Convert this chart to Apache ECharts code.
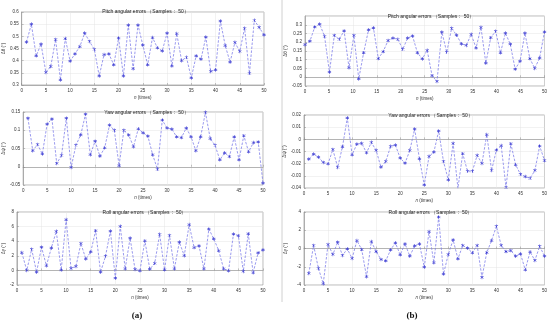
<!DOCTYPE html>
<html><head><meta charset="utf-8">
<script src="https://cdn.jsdelivr.net/npm/echarts@6/dist/echarts.min.js"></script>
<style>html,body{margin:0;padding:0;background:#fff}#c{width:550px;height:323px}</style>
</head><body><div id="c"></div>
<script>
// sample numbers (n)
const samples = [1,2,3,4,5,6,7,8,9,10,11,12,13,14,15,16,17,18,19,20,21,22,23,24,25,26,27,28,29,30,31,32,33,34,35,36,37,38,39,40,41,42,43,44,45,46,47,48,49,50];
const xTickStep = 5;

// (a) pitch, yaw, roll errors
const pitchA = [0.476,0.550,0.420,0.468,0.352,0.376,0.487,0.321,0.491,0.398,0.428,0.458,0.513,0.479,0.446,0.337,0.425,0.428,0.383,0.493,0.337,0.546,0.367,0.546,0.464,0.383,0.495,0.453,0.440,0.513,0.378,0.511,0.400,0.414,0.329,0.420,0.406,0.497,0.356,0.362,0.563,0.462,0.394,0.475,0.438,0.533,0.348,0.566,0.537,0.506];
const yawA = [0.133,0.044,0.061,0.035,0.117,0.131,0.009,0.031,0.133,-0.002,0.059,0.087,0.144,0.033,0.070,0.029,0.052,0.114,0.100,0.003,0.100,0.087,0.055,0.104,0.093,0.084,0.033,-0.007,0.128,0.106,0.103,0.082,0.080,0.106,0.082,0.044,0.082,0.149,0.077,0.059,0.019,0.038,0.028,0.082,0.019,0.085,0.041,0.066,0.068,-0.045];
const rollA = [2.44,0.0,2.9,-0.23,3.18,0.65,3.09,5.35,0.05,6.96,0.28,0.55,3.69,1.57,2.53,5.44,-0.23,1.94,5.39,-1.06,6.04,0.23,4.42,0.14,-0.05,4.06,0.18,0.97,4.93,0.09,4.79,0.23,3.87,2.03,6.27,3.13,3.36,0.23,5.67,4.33,2.72,0.23,-0.05,4.98,4.75,-0.14,5.02,-0.32,2.4,2.81];

// (b) pitch, yaw, roll errors
const pitchB = [0.186,0.206,0.287,0.304,0.234,0.029,0.239,0.217,0.265,0.055,0.239,-0.009,0.140,0.271,0.282,0.107,0.147,0.210,0.224,0.217,0.160,0.224,0.236,0.140,0.105,0.154,0.009,-0.024,0.258,0.143,0.280,0.241,0.191,0.182,0.245,0.167,0.285,0.081,0.226,0.263,0.140,0.252,0.189,0.046,0.092,0.252,0.107,0.051,0.110,0.259];
const yawB = [-0.0163,-0.0121,-0.0146,-0.0190,-0.0201,-0.0083,-0.0231,-0.0061,0.0176,-0.0127,-0.0039,-0.0033,-0.0110,-0.0025,-0.0091,-0.0229,-0.0182,-0.0058,-0.0047,-0.0154,-0.0196,-0.0091,0.0085,-0.0160,-0.0375,-0.0140,-0.0105,0.0069,-0.0182,-0.0333,-0.0033,-0.0402,-0.0118,-0.0262,-0.0262,-0.0132,-0.0198,0.0039,-0.0256,-0.0088,-0.0052,-0.0394,-0.0036,-0.0209,-0.0287,-0.0306,-0.0320,-0.0256,-0.0055,-0.0174];
const rollB = [-2.73,0.33,-2.18,-3.85,0.44,-0.65,0.69,-0.76,-0.04,-1.09,0.87,-0.11,-3.09,0.76,-0.33,-1.2,-1.35,-0.15,0.62,-0.69,0.51,-0.84,0.29,0.51,-2.04,1.85,-1.56,3.45,-2.8,-0.65,0.95,-1.13,0.33,0.04,-0.47,0.33,-3.16,-0.44,0.87,2.44,0.33,-0.33,-0.22,-0.84,-0.58,-2.33,-0.36,-1.31,0.25,-0.84];

const titles = ['Pitch angular errors （Samples： 50）','Yaw angular errors （Samples： 50）','Roll angular errors （Samples： 50）'];
const yNames = ['Δθ (°)','Δψ (°)','Δγ (°)'];
const panelLabels = ['(a)','(b)'];

const panels = [
  {data: pitchA, g:{left:17, top:12, width:247, height:73}, y:[0.3,0.6,0.05], t:titles[0], n:yNames[0], ty:7, uniform:false},
  {data: pitchB, g:{left:305, top:16, width:242, height:70}, y:[-0.05,0.35,0.05], t:titles[0], n:yNames[0], ty:12, uniform:true, hideMax:true},
  {data: yawA, g:{left:20, top:112, width:243, height:73}, y:[-0.05,0.15,0.05], t:titles[1], n:yNames[1], ty:108, uniform:false},
  {data: yawB, g:{left:304, top:115, width:243, height:73}, y:[-0.04,0.02,0.01], t:titles[1], n:yNames[1], ty:111, uniform:false},
  {data: rollA, g:{left:16, top:212, width:247, height:73}, y:[-2,8,2], t:titles[2], n:yNames[2], ty:208, uniform:false},
  {data: rollB, g:{left:304, top:212, width:243, height:73}, y:[-4,4,2], t:titles[2], n:yNames[2], ty:208, uniform:false}
];

const FONT = 'Liberation Sans, Arial, sans-serif';
const lineColor = '#8080ea';
const markColor = '#3a3ad2';
const asterisk = 'path://M-0.15,-1L0.15,-1L0.15,1L-0.15,1Z M0.791,-0.63L0.941,-0.37L-0.791,0.63L-0.941,0.37Z M-0.941,-0.37L-0.791,-0.63L0.941,0.37L0.791,0.63Z';

const grid = [], xAxis = [], yAxis = [], series = [], title = [];
panels.forEach((p, i) => {
  grid.push(Object.assign({show:true, borderColor:'#8a8a8a', borderWidth:0.6, backgroundColor:'#fff'}, p.g));
  title.push({text:p.t, left:p.g.left + p.g.width/2, top:p.ty - 3, textAlign:'center',
    textStyle:{fontSize:5, fontWeight:'normal', color:'#222', fontFamily:FONT}});
  const vx = xAxis.length;
  xAxis.push({type:'value', gridIndex:i, min:0, max:50, interval:xTickStep,
    name:'{i|n} (times)', nameLocation:'middle', nameGap:10,
    nameTextStyle:{fontSize:4.5, color:'#333', fontFamily:FONT, rich:{i:{fontStyle:'italic', fontSize:4.5, color:'#333', fontFamily:FONT}}},
    axisLine:{show:true, lineStyle:{color:'#8a8a8a', width:0.6}},
    axisTick:{show:true, inside:true, length:2, lineStyle:{color:'#8a8a8a', width:0.5}},
    axisLabel:{fontSize:4.5, color:'#333', margin:3, fontFamily:FONT},
    splitLine:{show:true, lineStyle:{color:'#e4e4e4', width:0.5}}});
  let sxi = vx;
  if (p.uniform) {
    sxi = xAxis.length;
    xAxis.push({type:'category', gridIndex:i, show:false, boundaryGap:false, data:samples.map(String)});
  }
  yAxis.push({type:'value', gridIndex:i, min:p.y[0], max:p.y[1], interval:p.y[2],
    name:p.n, nameLocation:'middle', nameRotate:90, nameGap: (i%2===0 ? p.g.left-6 : p.g.left-288),
    nameTextStyle:{fontSize:4.5, color:'#333', fontFamily:FONT},
    axisLine:{show:true, lineStyle:{color:'#8a8a8a', width:0.6}},
    axisTick:{show:true, inside:true, length:2, lineStyle:{color:'#8a8a8a', width:0.5}},
    axisLabel:{fontSize:4.5, color:'#333', margin:3, fontFamily:FONT, showMaxLabel: p.hideMax ? false : true},
    splitLine:{show:true, lineStyle:{color:'#e4e4e4', width:0.5}}});
  series.push({type:'line', xAxisIndex:sxi, yAxisIndex:i,
    data: p.uniform ? p.data : p.data.map((v, k) => [samples[k], v]),
    symbol:asterisk, symbolSize:3.6, showSymbol:true, showAllSymbol:true,
    itemStyle:{color:markColor},
    lineStyle:{color:lineColor, width:0.8, type:[2.5,1.5]},
    animation:false, silent:true});
});

const chart = echarts.init(document.getElementById('c'), null, {renderer:'canvas'});
chart.setOption({
  backgroundColor:'#fff', animation:false,
  title, grid, xAxis, yAxis, series,
  graphic:[
    {type:'line', shape:{x1:282, y1:0, x2:282, y2:302}, style:{stroke:'#d0d0d0', lineWidth:1}},
    {type:'text', x:137, y:316, style:{text:panelLabels[0], font:'bold 9px "Liberation Serif", serif', fill:'#111', textAlign:'center', textVerticalAlign:'middle'}},
    {type:'text', x:412, y:316, style:{text:panelLabels[1], font:'bold 9px "Liberation Serif", serif', fill:'#111', textAlign:'center', textVerticalAlign:'middle'}}
  ]
});
</script></body></html>
